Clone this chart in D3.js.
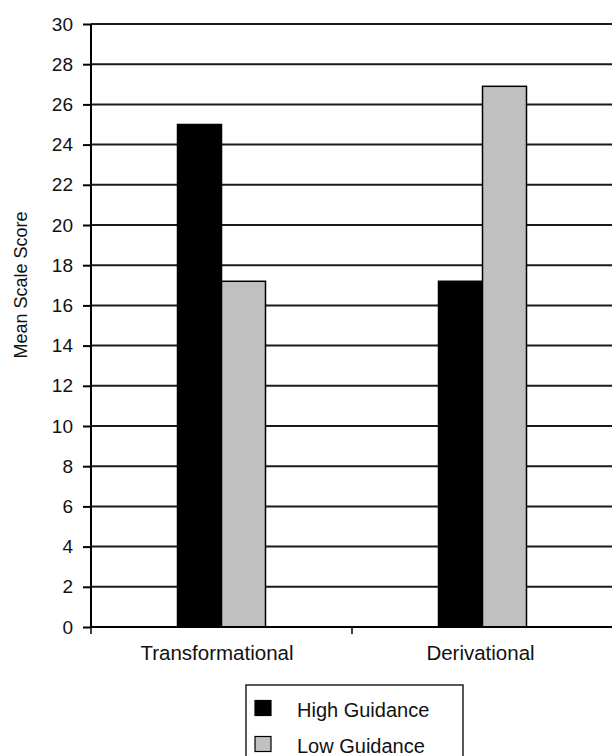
<!DOCTYPE html>
<html><head><meta charset="utf-8">
<script src="https://cdn.jsdelivr.net/npm/d3@7"></script>
<style>body{margin:0;background:#fff}svg{display:block}</style>
</head><body>
<script>
const categories = ["Transformational", "Derivational"];
const seriesNames = ["High Guidance", "Low Guidance"];
const highGuidance = [25.0, 17.2];
const lowGuidance = [17.2, 26.9];
const yTicks = [0,2,4,6,8,10,12,14,16,18,20,22,24,26,28,30];
const colors = ["#000000", "#c0c0c0"];

(function () {
const W = 612, H = 756;
const mLeft = 91, mRight = 613, mTop = 24, mBottom = 627;
const svg = d3.select("body").append("svg").attr("width", W).attr("height", H);
const font = "Liberation Sans, Arial, sans-serif";

const x = d3.scaleBand().domain(categories).range([mLeft, mRight]).paddingInner(0).paddingOuter(0);
const y = d3.scaleLinear().domain([0, 30]).range([mBottom, mTop]);

// gridlines
svg.append("g").selectAll("line").data(yTicks.filter(d => d > 0)).join("line")
  .attr("x1", mLeft).attr("x2", W).attr("y1", d => y(d)).attr("y2", d => y(d))
  .attr("stroke", "#1a1a1a").attr("stroke-width", 2);

// bars
const data = categories.map((c, i) => ({c, vals: [highGuidance[i], lowGuidance[i]]}));
const bw = 44;
const g = svg.append("g");
data.forEach(d => {
  const cx = x(d.c) + x.bandwidth() / 2;
  d.vals.forEach((v, j) => {
    g.append("rect")
      .attr("x", cx - bw + j * bw).attr("y", y(v))
      .attr("width", bw).attr("height", y(0) - y(v))
      .attr("fill", colors[j]).attr("stroke", "#000").attr("stroke-width", 1.5);
  });
});

// y axis
const yAxis = svg.append("g").attr("transform", `translate(${mLeft},0)`)
  .call(d3.axisLeft(y).tickValues(yTicks).tickSize(8).tickPadding(10).tickFormat(d3.format("d")));
yAxis.select(".domain").attr("stroke", "#000").attr("stroke-width", 2).attr("d", `M0,${mTop}V${mBottom}`);
yAxis.selectAll(".tick line").attr("stroke", "#000").attr("stroke-width", 2);
yAxis.selectAll(".tick text").attr("font-family", font).attr("font-size", 19).attr("fill", "#111");

// x axis
const xAxis = svg.append("g").attr("transform", `translate(0,${mBottom})`);
xAxis.append("line").attr("x1", mLeft).attr("x2", W).attr("y1", 0).attr("y2", 0).attr("stroke", "#000").attr("stroke-width", 2);
xAxis.selectAll("line.tk").data([mLeft, mLeft + x.bandwidth(), mLeft + 2 * x.bandwidth()]).join("line")
  .attr("class", "tk").attr("x1", d => d).attr("x2", d => d).attr("y1", 0).attr("y2", 7)
  .attr("stroke", "#000").attr("stroke-width", 1.5);
xAxis.selectAll("text").data(categories).join("text")
  .attr("x", d => x(d) + x.bandwidth() / 2 - (d === categories[0] ? 4.5 : 2)).attr("y", 33)
  .attr("text-anchor", "middle").attr("font-family", font).attr("font-size", 20.5).attr("fill", "#111")
  .text(d => d);

// y label
svg.append("text").attr("transform", `translate(27,285) rotate(-90)`)
  .attr("text-anchor", "middle").attr("font-family", font).attr("font-size", 18).attr("fill", "#111")
  .text("Mean Scale Score");

// legend
const lg = svg.append("g");
lg.append("rect").attr("x", 246).attr("y", 685).attr("width", 217).attr("height", 80)
  .attr("fill", "none").attr("stroke", "#222").attr("stroke-width", 1.5);
seriesNames.forEach((s, i) => {
  const yy = 716.5 + i * 36;
  lg.append("rect").attr("x", 255).attr("y", yy - 16).attr("width", 16).attr("height", 15)
    .attr("fill", colors[i]).attr("stroke", "#000").attr("stroke-width", 1.2);
  lg.append("text").attr("x", 297).attr("y", yy).attr("font-family", font).attr("font-size", 20)
    .attr("fill", "#111").text(s);
});
})();
</script>
</body></html>
